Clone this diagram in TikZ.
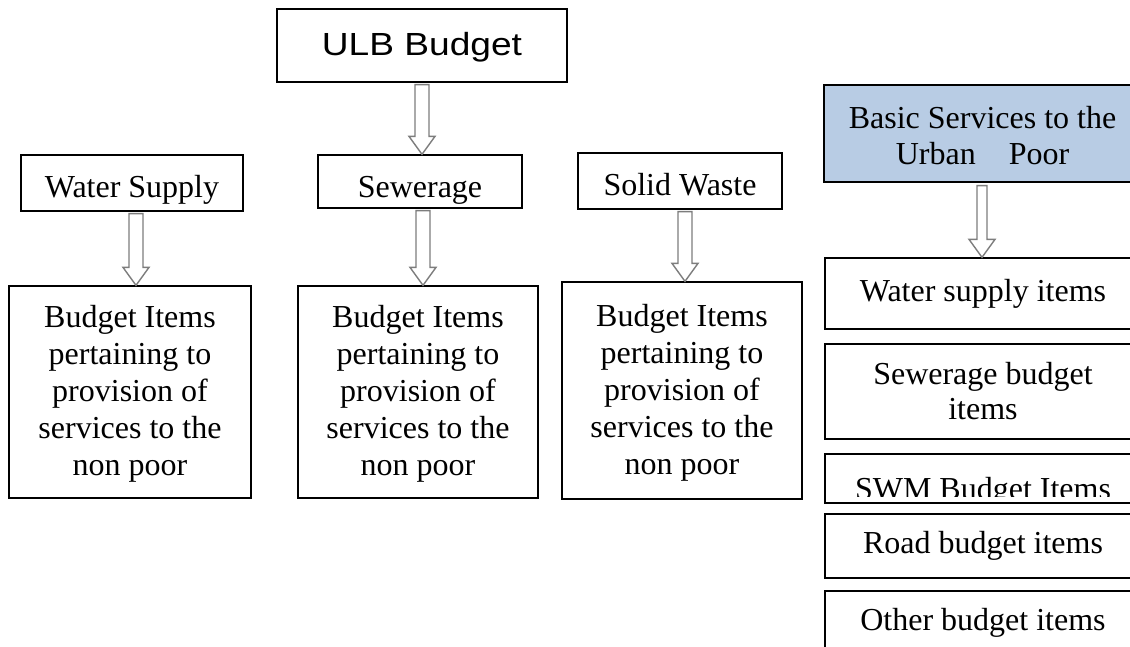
\documentclass[tikz,border=0pt]{standalone}
\usepackage{fontspec}
\setmainfont{Liberation Serif}
\newfontfamily\arialf{Liberation Sans}
\usetikzlibrary{calc}
\definecolor{arrgray}{RGB}{125,125,125}
\definecolor{bsupblue}{RGB}{184,204,228}
\newlength{\shaftw}
\setlength{\shaftw}{7pt}
\tikzset{
  box/.style={draw=black, line width=1.3pt, inner sep=0pt, align=center,
    font=\fontsize{32}{37}\selectfont},
  bigarrow/.style={draw=arrgray, fill=white, line width=1.4pt, line join=miter,
    to path={let \p1=(\tikztostart), \p2=(\tikztotarget) in
      (\x1-\shaftw,\y1) -- (\x1-\shaftw,\y2+18pt) -- (\x1-13pt,\y2+18pt) --
      (\x1,\y2) -- (\x1+13pt,\y2+18pt) -- (\x1+\shaftw,\y2+18pt) --
      (\x1+\shaftw,\y1) -- cycle}}
}
\begin{document}
\begin{tikzpicture}[x=1pt,y=1pt]
\clip (0,0) rectangle (1130,-646);
\fill[white] (0,0) rectangle (1130,-646);

% top
\node[box, minimum width=290, minimum height=73, text height=27pt, text depth=7pt,
  font=\arialf\fontsize{32}{37}\selectfont]
  (ulb) at (422,-45.5) {\scalebox{1.16}[1]{ULB Budget}};

% second row
\node[box, minimum width=222, minimum height=56, text height=30pt, text depth=2pt] (water) at (132,-183) {Water Supply};
\node[box, minimum width=204, minimum height=53, text height=32pt, text depth=1pt] (sew) at (420,-181.5) {Sewerage};
\node[box, minimum width=204, minimum height=56, text height=30pt, text depth=2pt] (solid) at (680,-181) {Solid Waste};

% budget item boxes
\node[box, minimum width=242, minimum height=212] (b1) at (130,-392)
  {\rule{0pt}{26pt}Budget Items\\pertaining to\\provision of\\services to the\\non poor};
\node[box, minimum width=240, minimum height=212] (b2) at (418,-392)
  {\rule{0pt}{26pt}Budget Items\\pertaining to\\provision of\\services to the\\non poor};
\node[box, minimum width=240, minimum height=217] (b3) at (682,-390.5)
  {\rule{0pt}{26pt}Budget Items\\pertaining to\\provision of\\services to the\\non poor};

% right column
\node[box, fill=bsupblue, minimum width=317, minimum height=97, font=\fontsize{32}{36}\selectfont]
  (bsup) at (982.5,-133.5) {\rule{0pt}{26pt}Basic Services to the\\Urban\hspace{33pt}Poor};
\node[box, minimum width=316, minimum height=71] (wsi) at (983,-293.5) {Water supply items};
\node[box, minimum width=316, minimum height=95, font=\fontsize{32}{35}\selectfont]
  (sbi) at (983,-391.5) {Sewerage budget\\items};
\node[box, minimum width=316, minimum height=49] (swm) at (983,-478.5) {};
\begin{scope}
  \clip (swm.north west) rectangle ([yshift=7pt]swm.south east);
  \node[anchor=base, inner sep=0pt, font=\fontsize{32}{37}\selectfont] (swmt) at (983,-499) {SWM Budget Items};
\end{scope}
\node[box, minimum width=316, minimum height=64] (road) at (983,-546) {Road budget items};
\node[box, minimum width=316, minimum height=70] (other) at (983,-626) {};
\node[anchor=base, inner sep=0pt, font=\fontsize{32}{37}\selectfont] (othert) at (983,-630) {Other budget items};

% arrows
\draw[bigarrow] ([yshift=-2pt]ulb.south) to (sew.north);
\draw[bigarrow] ([xshift=4pt,yshift=-2pt]water.south) to (b1.north);
\draw[bigarrow] ([xshift=3pt,yshift=-2pt]sew.south) to (b2.north);
\draw[bigarrow] ([xshift=5pt,yshift=-2pt]solid.south) to (b3.north);
\setlength{\shaftw}{5pt}
\draw[bigarrow] ([xshift=-0.5pt,yshift=-3pt]bsup.south) to (wsi.north);
\end{tikzpicture}
\end{document}
